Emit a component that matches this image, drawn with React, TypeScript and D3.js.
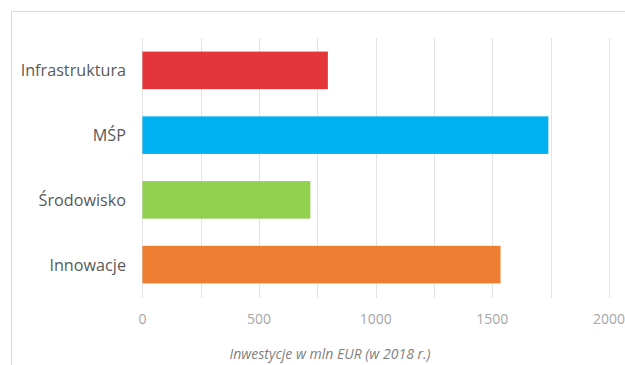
import React from "react";
import * as d3 from "d3";

const categories = ["Infrastruktura", "MŚP", "Środowisko", "Innowacje"];
const values = [795, 1740, 720, 1535];
const colors = ["#E4363A", "#00B0F0", "#92D050", "#ED7D31"];
const tickValues = [0, 500, 1000, 1500, 2000];
const gridValues = [0, 250, 500, 750, 1000, 1250, 1500, 1750, 2000];
const axisTitle = "Inwestycje w mln EUR (w 2018 r.)";

const W = 625;
const H = 365;

export default function App() {
  const x = d3.scaleLinear().domain([0, 2000]).range([142.4, 609]);
  const y = d3
    .scaleBand<string>()
    .domain(categories)
    .range([38, 297])
    .paddingInner(0.42)
    .paddingOuter(0.21);

  const labelFont = "'Open Sans', sans-serif";

  return (
    <svg
      width={W}
      height={H}
      style={{ position: "absolute", left: 0, top: 0, background: "#fff" }}
    >
      <rect x={11.5} y={11.5} width={700} height={400} fill="#fff" stroke="#D9D9D9" strokeWidth={1} />
      {gridValues.map((v) => (
        <line
          key={v}
          x1={Math.round(x(v)) + 0.5}
          x2={Math.round(x(v)) + 0.5}
          y1={38}
          y2={298}
          stroke="#E3E3E3"
          strokeWidth={1}
        />
      ))}
      {categories.map((c, i) => (
        <rect
          key={c}
          x={x(0)}
          y={y(c)}
          width={x(values[i]) - x(0)}
          height={y.bandwidth()}
          fill={colors[i]}
        />
      ))}
      {categories.map((c) => (
        <text
          key={c}
          x={126}
          y={(y(c) as number) + y.bandwidth() / 2}
          textAnchor="end"
          dominantBaseline="central"
          fill="#595959"
          fontFamily={labelFont}
          fontSize={16.2}
        >
          {c}
        </text>
      ))}
      {tickValues.map((v) => (
        <text
          key={v}
          x={x(v)}
          y={318}
          textAnchor="middle"
          dominantBaseline="central"
          fill="#A6A6A6"
          fontFamily={labelFont}
          fontSize={14}
        >
          {v}
        </text>
      ))}
      <text
        x={330}
        y={353}
        textAnchor="middle"
        dominantBaseline="central"
        fill="#7F7F7F"
        fontFamily="'Open Sans', sans-serif"
        fontStyle="italic"
        fontSize={14}
      >
        {axisTitle}
      </text>
    </svg>
  );
}
